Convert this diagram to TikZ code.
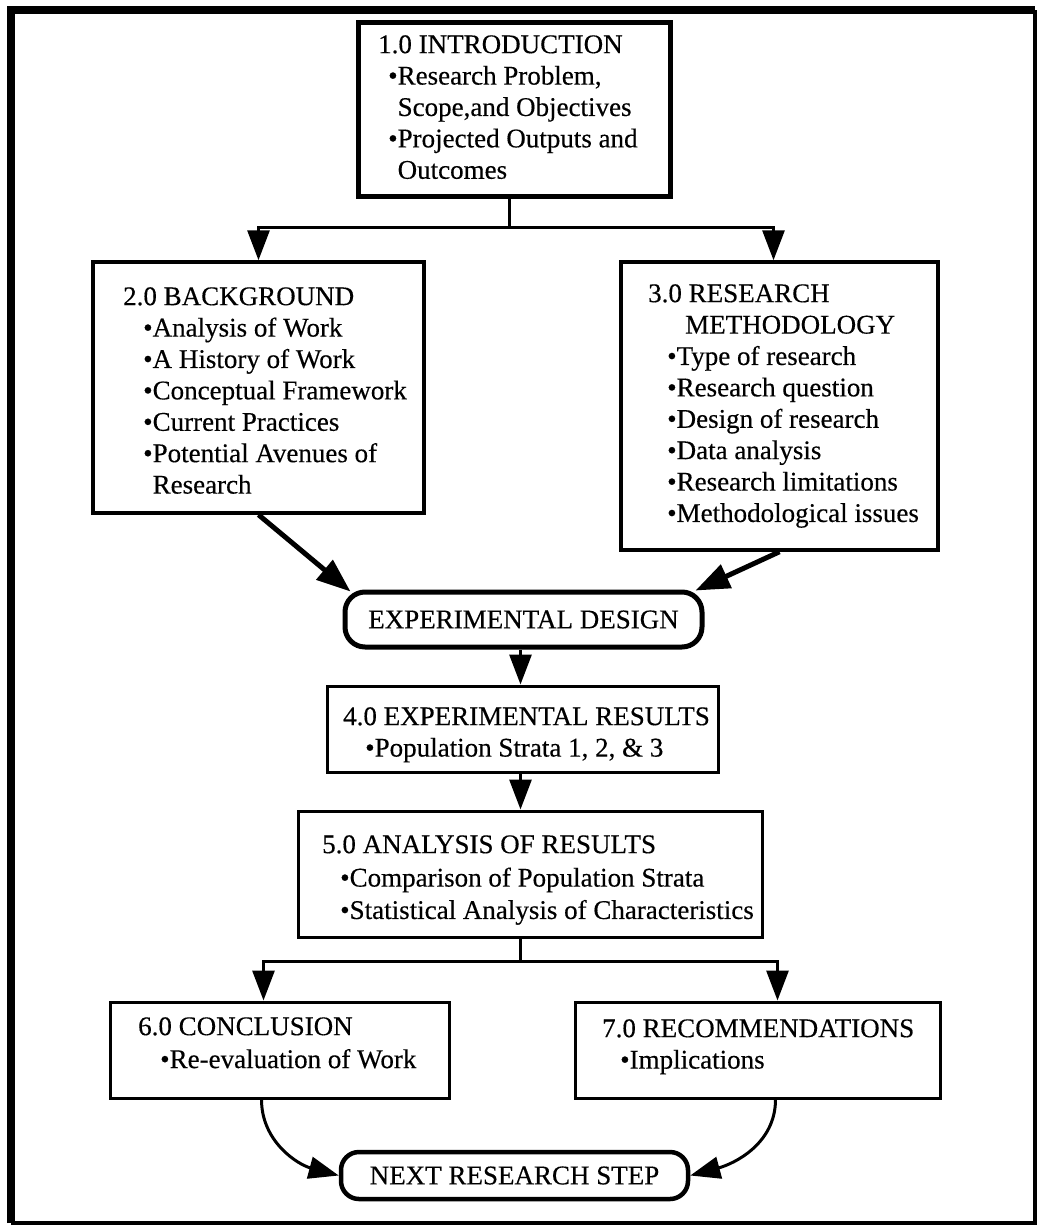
\documentclass[tikz,border=0pt]{standalone}
\usepackage{fontspec}
\setmainfont{Liberation Serif}[UprightFeatures={FakeBold=0.35}]
\usetikzlibrary{arrows.meta,calc}

\begin{document}
\begin{tikzpicture}[x=1pt,y=-1pt,
  box/.style={draw, line width=3pt, inner sep=0pt, rectangle},
  heavybox/.style={draw, line width=5pt, inner sep=0pt, rectangle},
  pill/.style={draw, line width=5pt, rounded corners=20pt, inner sep=0pt,
    font=\fontsize{27}{31.5}\selectfont},
  txt/.style={anchor=north west, inner sep=0pt, align=left,
    font=\fontsize{27}{31.4}\selectfont},
  link/.style={line width=3pt},
  arr/.style={line width=3pt, -{Triangle[length=30pt,width=22pt]}},
  diag/.style={line width=5pt, -{Triangle[length=34pt,width=25pt]}},
]
\useasboundingbox (0,0) rectangle (1040,1226);
% outer frame: heavier on the left and top
\draw[line width=8pt] (11,1223) -- (11,10) -- (1035,10);
\draw[line width=4.5pt] (1035,10) -- (1035,1223) -- (11,1223);

% boxes
\node[heavybox, minimum width=312pt, minimum height=174pt] (intro) at (514,109) {};
\node[box, line width=3.5pt, minimum width=331pt, minimum height=251pt] (bg) at (258.5,387.5) {};
\node[box, line width=3.5pt, minimum width=317pt, minimum height=288pt] (rm) at (779.5,406) {};
\node[pill, minimum width=357pt, minimum height=55pt] (ed) at (523.5,619.5) {EXPERIMENTAL DESIGN};
\node[box, minimum width=391pt, minimum height=86pt] (r4) at (522.5,729) {};
\node[box, minimum width=464pt, minimum height=126pt] (r5) at (530,874) {};
\node[box, minimum width=339pt, minimum height=96pt] (r6) at (279.5,1050) {};
\node[box, minimum width=365pt, minimum height=96pt] (r7) at (757.5,1050) {};
\node[pill, line width=4.5pt, rounded corners=18pt, minimum width=347pt, minimum height=47pt] (nrs) at (514.5,1175.5) {NEXT RESEARCH STEP};

% box texts
\node[txt] (tintro) at (378,35) {1.0 INTRODUCTION\\
  \hspace*{10pt}•Research Problem,\\
  \hspace*{10pt}\phantom{•}Scope,and Objectives\\
  \hspace*{10pt}•Projected Outputs and\\
  \hspace*{10pt}\phantom{•}Outcomes};
\node[txt] (tbg) at (123,287) {2.0 BACKGROUND\\
  \hspace*{20pt}•Analysis of Work\\
  \hspace*{20pt}•A History of Work\\
  \hspace*{20pt}•Conceptual Framework\\
  \hspace*{20pt}•Current Practices\\
  \hspace*{20pt}•Potential Avenues of\\
  \hspace*{20pt}\phantom{•}Research};
\node[txt] (trm) at (648,284) {3.0 RESEARCH\\
  \hspace*{37pt}METHODOLOGY\\
  \hspace*{19pt}•Type of research\\
  \hspace*{19pt}•Research question\\
  \hspace*{19pt}•Design of research\\
  \hspace*{19pt}•Data analysis\\
  \hspace*{19pt}•Research limitations\\
  \hspace*{19pt}•Methodological issues};
\node[txt] (tr4) at (343,707) {4.0 EXPERIMENTAL RESULTS\\
  \hspace*{22pt}•Population Strata 1, 2, \& 3};
\node[txt] (tr5) at (322,835) {5.0 ANALYSIS OF RESULTS\\[2pt]
  \hspace*{18pt}•Comparison of Population Strata\\[1pt]
  \hspace*{18pt}•Statistical Analysis of Characteristics};
\node[txt] (tr6) at (138,1017) {6.0 CONCLUSION\\[1.5pt]
  \hspace*{22pt}•Re-evaluation of Work};
\node[txt] (tr7) at (602,1019) {7.0 RECOMMENDATIONS\\
  \hspace*{18pt}•Implications};

% connectors
\draw[link] ($(intro.south)+(-5,0)$) -- ++(0,29) coordinate (split1);
\draw[arr] (split1) -| (bg.north);
\draw[arr] (split1) -| ($(rm.north)+(-6,0)$);

\draw[diag] (bg.south) -- ($(ed.north west)+(8,2)$);
\draw[diag] (rm.south) -- ($(ed.north east)+(-9,1)$);

\draw[arr] ($(ed.south)+(-3,0)$) -- ($(r4.north)+(-2,0)$);
\draw[arr] ($(r4.south)+(-2,0)$) -- ($(r4.south |- r5.north)+(-2,0)$);

\draw[link] ($(r5.south)+(-10,0)$) -- ++(0,23) coordinate (split2);
\draw[arr] (split2) -| ($(r6.north)+(-16,0)$);
\draw[arr] (split2) -| ($(r7.north)+(20,0)$);

\draw[arr] ($(r6.south)+(-18,0)$) to[out=-90,in=165] (nrs.west);
\draw[arr] ($(r7.south)+(18,0)$) to[out=-90,in=15] (nrs.east);
\end{tikzpicture}
\end{document}
